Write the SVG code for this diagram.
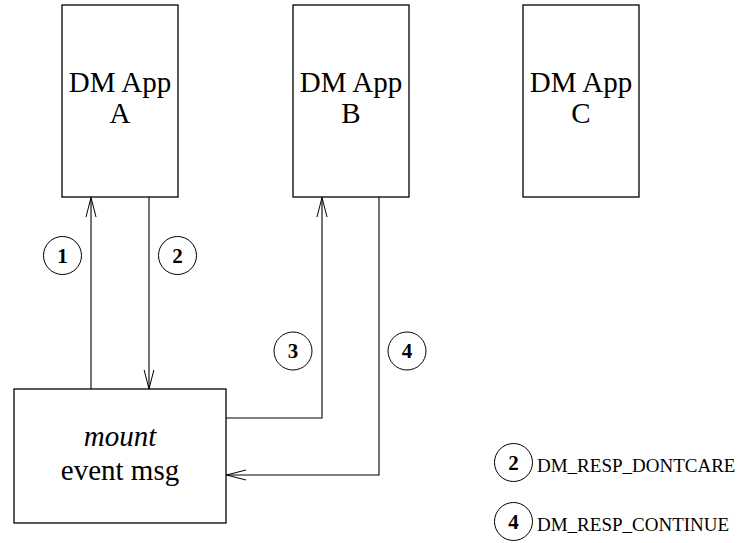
<svg xmlns="http://www.w3.org/2000/svg" width="743" height="543" viewBox="0 0 743 543">
  <defs>
    <marker id="open" viewBox="0 0 20 12" refX="19.5" refY="6" markerWidth="20" markerHeight="12" markerUnits="userSpaceOnUse" orient="auto">
      <path d="M0,1 L19.5,6 L0,11" fill="none" stroke="#000" stroke-width="1"/>
    </marker>
  </defs>
  <style>
    .box { fill: #fff; stroke: #000; stroke-width: 1.3; }
    .lbl { font-size: 29px; fill: #000; text-anchor: middle; }
    .num { font-size: 21px; font-weight: bold; fill: #000; text-anchor: middle; }
    .leg { font-size: 19px; fill: #000; }
    .circ { fill: none; stroke: #000; stroke-width: 1; }
    .conn { fill: none; stroke: #000; stroke-width: 1.1; }
  </style>
  <rect width="743" height="543" fill="#fff"/>

  <g font-family="Liberation Serif, Times New Roman, Tinos, Noto Serif, DejaVu Serif, serif">
  <g id="appA">
    <rect class="box" x="62" y="5" width="116" height="192"/>
    <text class="lbl" x="120" y="92">DM App</text>
    <text class="lbl" x="120" y="123">A</text>
  </g>
  <g id="appB">
    <rect class="box" x="293" y="5" width="116" height="192"/>
    <text class="lbl" x="351" y="92">DM App</text>
    <text class="lbl" x="351" y="123">B</text>
  </g>
  <g id="appC">
    <rect class="box" x="523" y="5" width="116" height="192"/>
    <text class="lbl" x="581" y="92">DM App</text>
    <text class="lbl" x="581" y="123">C</text>
  </g>
  <g id="mountMsg">
    <rect class="box" x="14" y="389" width="212" height="134"/>
    <text class="lbl" x="120" y="446" font-style="italic">mount</text>
    <text class="lbl" x="120" y="480">event msg</text>
  </g>

  <g id="connectors">
    <path class="conn" d="M91,389 L91,197.5" marker-end="url(#open)"/>
    <path class="conn" d="M149,197 L149,389" marker-end="url(#open)"/>
    <path class="conn" d="M226,418 L322,418 L322,197.5" marker-end="url(#open)"/>
    <path class="conn" d="M379,197 L379,475 L226.5,475" marker-end="url(#open)"/>
  </g>

  <g id="step1">
    <circle class="circ" cx="62.5" cy="255.5" r="19"/>
    <text class="num" x="62.5" y="262.5">1</text>
  </g>
  <g id="step2">
    <circle class="circ" cx="177.5" cy="255.5" r="19"/>
    <text class="num" x="177.5" y="262.5">2</text>
  </g>
  <g id="step3">
    <circle class="circ" cx="293" cy="351" r="19"/>
    <text class="num" x="293" y="358">3</text>
  </g>
  <g id="step4">
    <circle class="circ" cx="407" cy="351" r="19"/>
    <text class="num" x="407" y="358">4</text>
  </g>

  <g id="legend2">
    <circle class="circ" cx="513.5" cy="462.5" r="19"/>
    <text class="num" x="513.5" y="469.5">2</text>
    <text class="leg" x="537" y="472">DM_RESP_DONTCARE</text>
  </g>
  <g id="legend4">
    <circle class="circ" cx="513.5" cy="521.5" r="19"/>
    <text class="num" x="513.5" y="528.5">4</text>
    <text class="leg" x="537" y="531">DM_RESP_CONTINUE</text>
  </g>
  </g>
</svg>
